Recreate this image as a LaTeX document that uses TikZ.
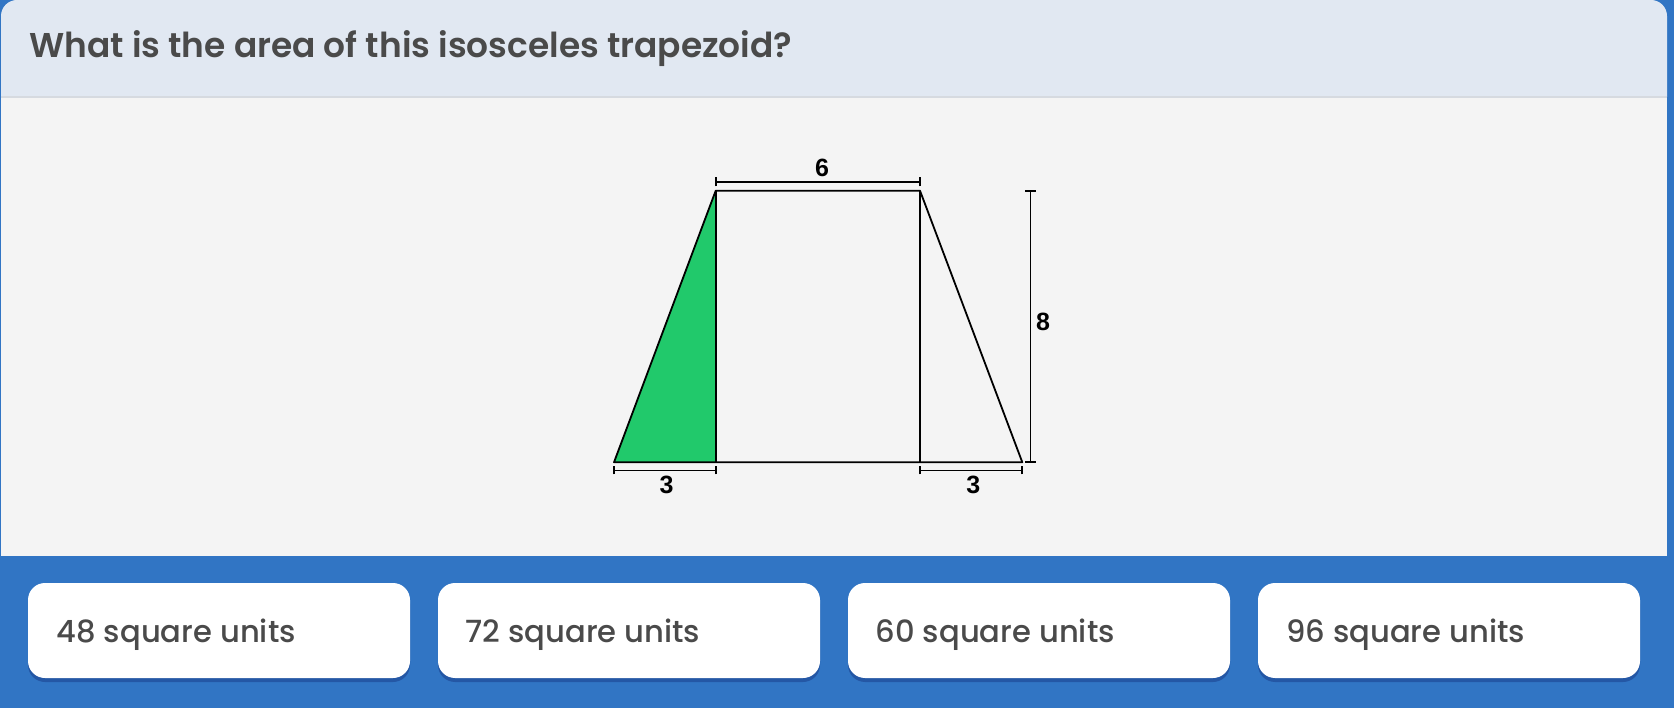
\documentclass[tikz,border=0pt]{standalone}
\usepackage{fontspec}
\setmainfont{Poppins}
\IfFontExistsTF{Poppins SemiBold}{\newfontfamily\poptitle{Poppins SemiBold}\def\titlesize{34.4}}{\newfontfamily\poptitle{Poppins Bold}\def\titlesize{33.6}}
\IfFontExistsTF{Poppins Medium}{\newfontfamily\popans{Poppins Medium}\def\anssize{30.6}}{\newfontfamily\popans{Poppins}\def\anssize{31}}
\newfontfamily\arialf{Liberation Sans}
\usetikzlibrary{shadows}
\definecolor{bgblue}{HTML}{3175C4}
\definecolor{headbg}{HTML}{E1E8F2}
\definecolor{panelbg}{HTML}{F4F4F4}
\definecolor{sepline}{HTML}{D6DAE0}
\definecolor{txtgray}{HTML}{4A4A4A}
\definecolor{shapegreen}{HTML}{21C96B}
\tikzset{
  btn/.style={fill=white, rounded corners=17pt, minimum width=382pt, minimum height=95pt, inner sep=0pt,
    drop shadow={opacity=0.25, shadow xshift=0pt, shadow yshift=-4pt, fill=black!70!blue}},
  anstext/.style={anchor=base west, inner sep=0pt, text=txtgray, font=\popans\fontsize{\anssize}{34}\selectfont},
  edge/.style={line width=1.8pt, black},
  dimline/.style={line width=1.8pt, black},
  dimlabel/.style={font=\arialf\bfseries\fontsize{25}{28}\selectfont, text=black, inner sep=0pt}
}
\begin{document}
\begin{tikzpicture}[x=1pt,y=-1pt]
\useasboundingbox (0,0) rectangle (1674,708);
\fill[bgblue] (0,0) rectangle (1674,708);
% panel
\fill[headbg] (1,97) [rounded corners=16pt] -- (1,0) -- (1667,0) [sharp corners] -- (1667,97) -- cycle;
\fill[panelbg] (1,97) rectangle (1667,556);
\draw[sepline, line width=2pt] (1,97) -- (1667,97);
\node[anchor=base west, text=txtgray, inner sep=0pt, font=\poptitle\fontsize{\titlesize}{38}\selectfont] (title) at (29,58) {What is the area of this isosceles trapezoid?};
% trapezoid
\coordinate (TL) at (715.7,190.7);
\coordinate (TR) at (920,190.7);
\coordinate (BL) at (614,462.3);
\coordinate (BR) at (1022.3,462.3);
\coordinate (ML) at (715.7,462.3);
\coordinate (MR) at (920,462.3);
\fill[shapegreen] (BL) -- (TL) -- (ML) -- cycle;
\draw[edge, line join=round] (BL) -- (TL) -- (TR) -- (BR) -- cycle;
\draw[edge] (TL) -- (ML);
\draw[edge] (TR) -- (MR);
% dimension: top 6
\coordinate (d6a) at (715.7,182);
\coordinate (d6b) at (920,182);
\draw[dimline] (d6a) -- (d6b);
\draw[dimline] ([yshift=-4.5pt]d6a) -- ([yshift=4.5pt]d6a);
\draw[dimline] ([yshift=-4.5pt]d6b) -- ([yshift=4.5pt]d6b);
\node[dimlabel] (l6) at (822,167.5) {6};
% dimension: right 8
\coordinate (d8a) at (1030.5,190.7);
\coordinate (d8b) at (1030.5,462.3);
\draw[dimline] (d8a) -- (d8b);
\draw[dimline] ([xshift=-5.5pt]d8a) -- ([xshift=5.5pt]d8a);
\draw[dimline] ([xshift=-5.5pt]d8b) -- ([xshift=5.5pt]d8b);
\node[dimlabel] (l8) at (1043,321.5) {8};
% dimension: bottom left 3
\coordinate (d3a) at (614,470.5);
\coordinate (d3b) at (715.7,470.5);
\draw[dimline] (d3a) -- (d3b);
\draw[dimline] ([yshift=-4pt]d3a) -- ([yshift=4pt]d3a);
\draw[dimline] ([yshift=-4pt]d3b) -- ([yshift=4pt]d3b);
\node[dimlabel] (l3a) at (666.5,484.5) {3};
% dimension: bottom right 3
\coordinate (d3c) at (920,470.5);
\coordinate (d3d) at (1022.3,470.5);
\draw[dimline] (d3c) -- (d3d);
\draw[dimline] ([yshift=-4pt]d3c) -- ([yshift=4pt]d3c);
\draw[dimline] ([yshift=-4pt]d3d) -- ([yshift=4pt]d3d);
\node[dimlabel] (l3b) at (973.3,484.5) {3};
% answers
\node[btn] (b1) at (219,630.5) {};
\node[btn] (b2) at (629,630.5) {};
\node[btn] (b3) at (1039,630.5) {};
\node[btn] (b4) at (1449,630.5) {};
\node[anstext] (t1) at (56.5,642) {48 square units};
\node[anstext] (t2) at (465.5,642) {72 square units};
\node[anstext] (t3) at (875.5,642) {60 square units};
\node[anstext] (t4) at (1286,642) {96 square units};
\end{tikzpicture}
\end{document}
